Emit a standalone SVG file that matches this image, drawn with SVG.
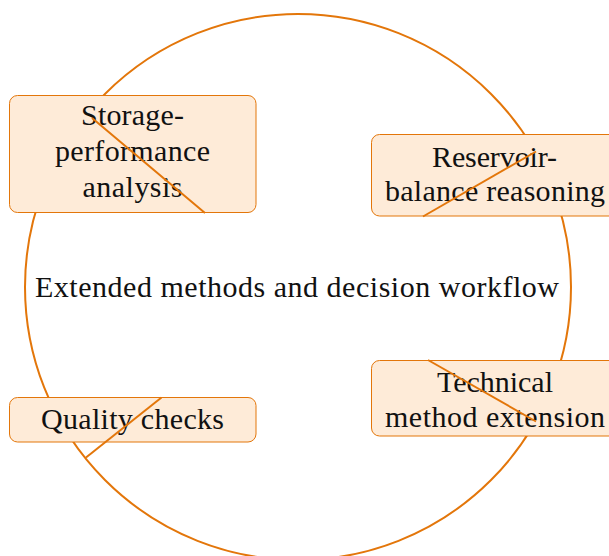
<svg xmlns="http://www.w3.org/2000/svg" width="609" height="556" viewBox="0 0 609 556">
<style>
.ring{fill:none;stroke:#E3760A;stroke-width:2}
.box{fill:#FEEBD8;stroke:#E3760A;stroke-width:1}
.lbl{font-family:"Liberation Serif","Times New Roman",serif;font-size:30px;fill:#111111;text-anchor:middle}
.edge{stroke:#E3760A;stroke-width:2;fill:none}
</style>
<rect width="609" height="556" fill="#ffffff"/>
<g id="center">
<circle class="ring" cx="298" cy="287" r="273"/>
<text class="lbl" x="297" y="297" textLength="524" lengthAdjust="spacing">Extended methods and decision workflow</text>
</g>
<g id="storage">
<rect class="box" x="9.5" y="95.5" width="246.5" height="117" rx="8"/>
<text class="lbl" x="132.5" y="125" textLength="103" lengthAdjust="spacing">Storage-</text>
<text class="lbl" x="132.5" y="161" textLength="155" lengthAdjust="spacing">performance</text>
<text class="lbl" x="132.5" y="197" textLength="100" lengthAdjust="spacing">analysis</text>
</g>
<g id="reservoir">
<rect class="box" x="371.5" y="134.5" width="246.5" height="81.5" rx="8"/>
<text class="lbl" x="494.5" y="166.5" textLength="125" lengthAdjust="spacing">Reservoir-</text>
<text class="lbl" x="495" y="200.5" textLength="220" lengthAdjust="spacing">balance reasoning</text>
</g>
<g id="technical">
<rect class="box" x="371.5" y="360.5" width="246.5" height="75.5" rx="8"/>
<text class="lbl" x="495" y="391.5" textLength="116" lengthAdjust="spacing">Technical</text>
<text class="lbl" x="495" y="426.5" textLength="220" lengthAdjust="spacing">method extension</text>
</g>
<g id="quality">
<rect class="box" x="9.5" y="397.5" width="246.5" height="44.5" rx="8"/>
<text class="lbl" x="132.5" y="428.5" textLength="183" lengthAdjust="spacing">Quality checks</text>
</g>
<g id="connectors">
<line class="edge" x1="92" y1="118" x2="205" y2="213"/>
<line class="edge" x1="423" y1="216.5" x2="536" y2="151.5"/>
<line class="edge" x1="428" y1="360" x2="536" y2="421.5"/>
<line class="edge" x1="161.5" y1="397.5" x2="86" y2="457.5"/>
</g>
</svg>
